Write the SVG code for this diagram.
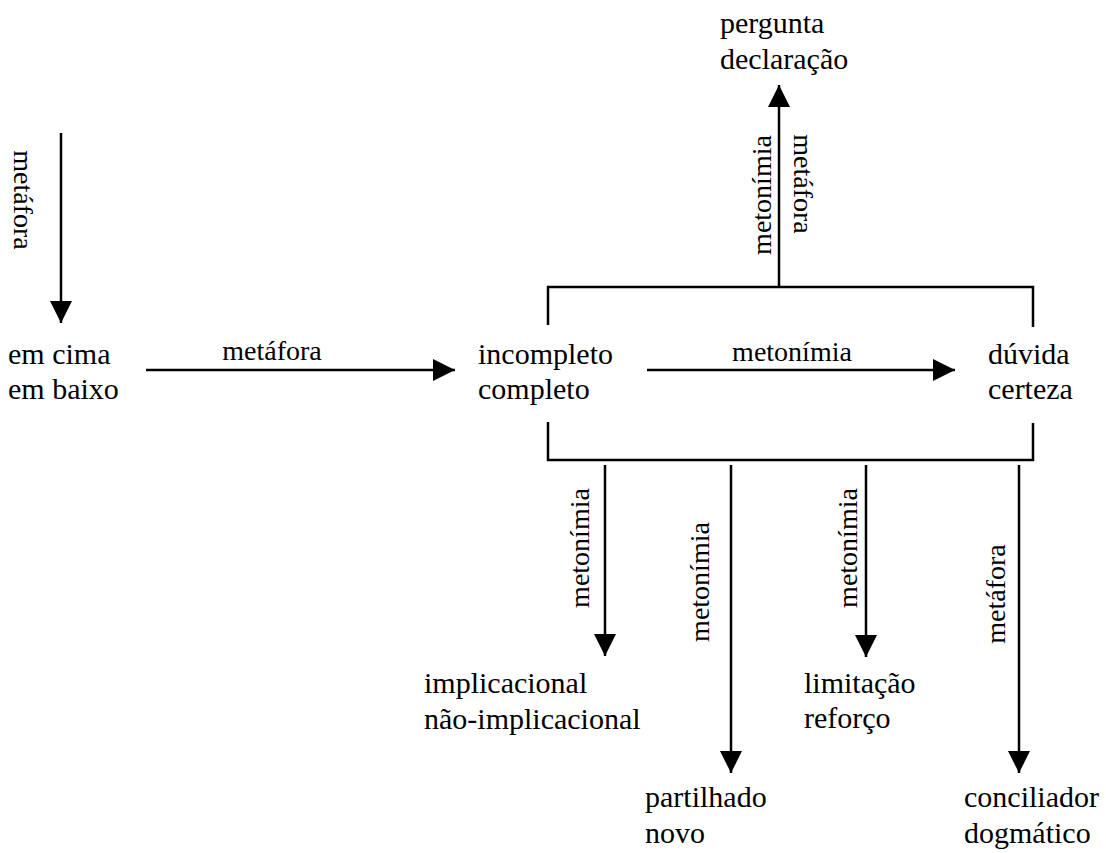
<svg xmlns="http://www.w3.org/2000/svg" width="1106" height="853" viewBox="0 0 1106 853">
<style>
.n{font-family:"Liberation Serif","Times New Roman",serif;font-size:30px;fill:#000}
.l{font-family:"Liberation Serif","Times New Roman",serif;font-size:28px;fill:#000;text-anchor:middle}
.c{stroke:#000;stroke-width:2.5;fill:none}
</style>
<defs>
<marker id="ah" markerUnits="userSpaceOnUse" markerWidth="24" markerHeight="24" refX="22" refY="11" orient="auto">
<path d="M0,0 L22,11 L0,22 z" fill="#000"/>
</marker>
</defs>
<rect width="1106" height="853" fill="#fff"/>
<g id="connectors">
<line class="c" x1="61" y1="133" x2="61" y2="323" marker-end="url(#ah)"/>
<line class="c" x1="146" y1="370" x2="455" y2="370" marker-end="url(#ah)"/>
<line class="c" x1="647" y1="370" x2="955" y2="370" marker-end="url(#ah)"/>
<path class="c" d="M548,325 V287 H1033 V327"/>
<path class="c" d="M548,422 V460 H1033 V423"/>
<line class="c" x1="779" y1="287" x2="779" y2="85" marker-end="url(#ah)"/>
<line class="c" x1="605" y1="465" x2="605" y2="656" marker-end="url(#ah)"/>
<line class="c" x1="731" y1="465" x2="731" y2="773" marker-end="url(#ah)"/>
<line class="c" x1="866" y1="465" x2="866" y2="657" marker-end="url(#ah)"/>
<line class="c" x1="1019" y1="465" x2="1019" y2="773" marker-end="url(#ah)"/>
<text class="l" transform="translate(14,200) rotate(90)">metáfora</text>
<text class="l" x="272" y="360">metáfora</text>
<text class="l" x="792" y="361">metonímia</text>
<text class="l" transform="translate(771,195) rotate(-90)">metonímia</text>
<text class="l" transform="translate(794,184) rotate(90)">metáfora</text>
<text class="l" transform="translate(589,548) rotate(-90)">metonímia</text>
<text class="l" transform="translate(709,582) rotate(-90)">metonímia</text>
<text class="l" transform="translate(857,548) rotate(-90)">metonímia</text>
<text class="l" transform="translate(1005,594) rotate(-90)">metáfora</text>
</g>
<g id="node-cima">
<text class="n" x="8" y="364">em cima</text>
<text class="n" x="8" y="399">em baixo</text>
</g>
<g id="node-completo">
<text class="n" x="478" y="364">incompleto</text>
<text class="n" x="478" y="399">completo</text>
</g>
<g id="node-duvida">
<text class="n" x="988" y="364">dúvida</text>
<text class="n" x="988" y="399">certeza</text>
</g>
<g id="node-pergunta">
<text class="n" x="720" y="33">pergunta</text>
<text class="n" x="720" y="69">declaração</text>
</g>
<g id="node-implicacional">
<text class="n" x="424" y="693">implicacional</text>
<text class="n" x="424" y="729">não-implicacional</text>
</g>
<g id="node-partilhado">
<text class="n" x="645" y="807">partilhado</text>
<text class="n" x="645" y="843">novo</text>
</g>
<g id="node-limitacao">
<text class="n" x="804" y="693">limitação</text>
<text class="n" x="804" y="728">reforço</text>
</g>
<g id="node-conciliador">
<text class="n" x="964" y="807">conciliador</text>
<text class="n" x="964" y="843">dogmático</text>
</g>
</svg>
